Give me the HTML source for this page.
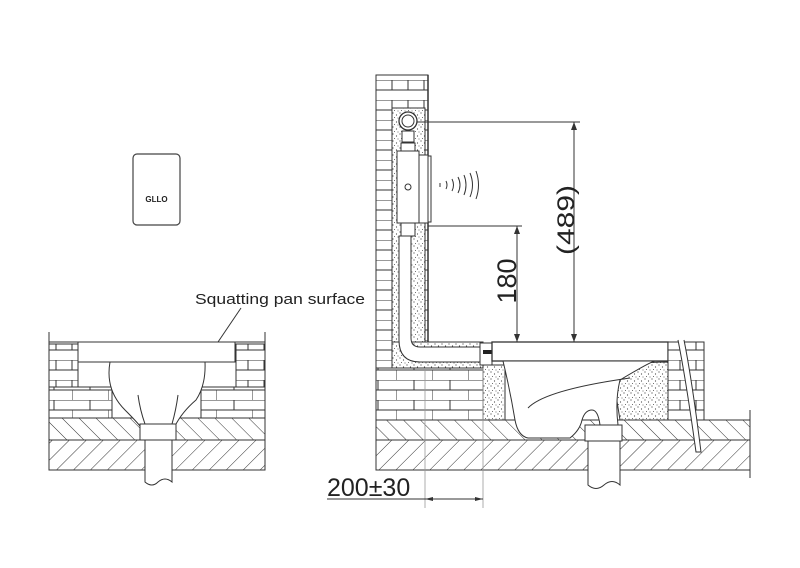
<!DOCTYPE html>
<html><head><style>
html,body{margin:0;padding:0;background:#fff;}
svg{display:block;}
text{font-family:"Liberation Sans",Arial,sans-serif;fill:#222;}
</style></head><body>
<svg width="800" height="568" viewBox="0 0 800 568" xmlns="http://www.w3.org/2000/svg">
<defs>
<pattern id="hatch" width="12" height="12" patternUnits="userSpaceOnUse" patternTransform="rotate(45)">
<line x1="0" y1="0" x2="0" y2="12" stroke="#333" stroke-width="1"/></pattern>
<pattern id="hatch2" width="12" height="12" patternUnits="userSpaceOnUse" patternTransform="rotate(-45)">
<line x1="0" y1="0" x2="0" y2="12" stroke="#333" stroke-width="1"/></pattern>
<pattern id="brick" width="36" height="20" patternUnits="userSpaceOnUse">
<rect width="36" height="20" fill="#fff"/>
<line x1="0" y1="0" x2="36" y2="0" stroke="#333"/>
<line x1="0" y1="10" x2="36" y2="10" stroke="#333"/>
<line x1="18" y1="0" x2="18" y2="10" stroke="#333"/>
<line x1="0" y1="10" x2="0" y2="20" stroke="#333"/>
</pattern>
<pattern id="brickn" width="16" height="20" patternUnits="userSpaceOnUse">
<rect width="16" height="20" fill="#fff"/>
<line x1="0" y1="0" x2="16" y2="0" stroke="#333"/>
<line x1="0" y1="10" x2="16" y2="10" stroke="#333"/>
<line x1="8" y1="0" x2="8" y2="10" stroke="#333"/>
</pattern>
<pattern id="dots" width="7" height="7" patternUnits="userSpaceOnUse">
<rect width="7" height="7" fill="#fff"/>
<circle cx="1" cy="1" r="0.6" fill="#444"/><circle cx="4.5" cy="3" r="0.6" fill="#444"/>
<circle cx="2.5" cy="5.5" r="0.5" fill="#444"/><circle cx="6" cy="6" r="0.5" fill="#444"/>
</pattern>
</defs>

<!-- Plate icon -->
<rect x="133" y="154" width="47" height="71" rx="4" fill="#fff" stroke="#444" stroke-width="1.2"/>
<text x="156.5" y="202" font-size="8" font-weight="bold" text-anchor="middle">GLLO</text>

<!-- LEFT DRAWING -->
<text x="195" y="304" font-size="15" textLength="170" lengthAdjust="spacingAndGlyphs">Squatting pan surface</text>
<line x1="241" y1="308" x2="218" y2="342" stroke="#333"/>
<rect x="49" y="344" width="29" height="43" fill="url(#brickn)" stroke="#333"/>
<rect x="49" y="387" width="63" height="31" fill="url(#brick)" stroke="#333"/>
<rect x="236" y="344" width="29" height="43" fill="url(#brickn)" stroke="#333"/>
<rect x="201" y="387" width="64" height="31" fill="url(#brick)" stroke="#333"/>
<line x1="49" y1="342" x2="265" y2="342" stroke="#333"/>
<line x1="49" y1="332" x2="49" y2="470" stroke="#333"/>
<line x1="265" y1="332" x2="265" y2="470" stroke="#333"/>
<rect x="78" y="342" width="157" height="20" fill="#fff" stroke="#333"/>
<rect x="49" y="418" width="216" height="22" fill="url(#hatch2)" stroke="#333"/>
<rect x="49" y="440" width="216" height="30" fill="url(#hatch)" stroke="#333"/>
<path d="M110 362 Q105 390 125 410 Q135 420 140 426 L175 426 Q182 412 196 400 Q206 385 205 362 Z" fill="#fff" stroke="#333"/>
<path d="M138 395 Q140 410 145 424 M178 395 Q176 410 172 424" fill="none" stroke="#333"/>
<rect x="140" y="424" width="36" height="16" fill="#fff" stroke="#333"/>
<path d="M145 440 L145 482 Q152 488 158 482 Q165 476 172 482 L172 440 Z" fill="#fff" stroke="#333"/>

<!-- RIGHT DRAWING -->
<rect x="376" y="75" width="52" height="345" fill="url(#brickn)" stroke="#333"/>
<rect x="392" y="108" width="33" height="260" fill="url(#dots)" stroke="#333"/>
<rect x="392" y="342" width="91" height="26" fill="url(#dots)" stroke="#333"/>
<rect x="376" y="368" width="107" height="52" fill="url(#brick)" stroke="#333"/>
<line x1="428" y1="75" x2="428" y2="342" stroke="#333" stroke-width="1.5"/>
<!-- pipe -->
<path d="M399 236 L399 340 Q399 362 420 362 L482 362 L482 347 L420 347 Q411 347 411 338 L411 236 Z" fill="#fff" stroke="#333"/>
<rect x="480" y="343" width="12" height="22" fill="#fff" stroke="#333"/>
<rect x="483" y="350" width="9" height="4" fill="#222"/>
<!-- valve -->
<circle cx="408" cy="121" r="9" fill="#fff" stroke="#333" stroke-width="1.3"/>
<circle cx="408" cy="121" r="6" fill="#fff" stroke="#333"/>
<rect x="402" y="131" width="12" height="11" fill="#fff" stroke="#333"/>
<rect x="401" y="143" width="14" height="8" fill="#fff" stroke="#333"/>
<rect x="397" y="151" width="22" height="72" fill="#fff" stroke="#333"/>
<circle cx="408" cy="187" r="3" fill="#fff" stroke="#333"/>
<rect x="401" y="223" width="14" height="13" fill="#fff" stroke="#333"/>
<rect x="419" y="155" width="9" height="68" fill="#fff" stroke="#333"/>
<rect x="428" y="156" width="3" height="66" fill="#fff" stroke="#333"/>
<g fill="none" stroke="#333">
<path d="M440 183 v4"/><path d="M446 181 q2 4 0 8"/><path d="M452 179 q3 6 0 12"/><path d="M458 177 q4 8 0 16"/><path d="M464 175 q4 10 0 20"/><path d="M470 173 q5 12 0 24"/><path d="M476 171 q5 14 0 28"/>
</g>
<!-- dims -->
<line x1="418" y1="122" x2="580" y2="122" stroke="#333"/>
<line x1="574" y1="122" x2="574" y2="342" stroke="#333"/>
<path d="M571 130 L574 122 L577 130 Z M571 334 L574 342 L577 334 Z" fill="#333"/>
<text transform="translate(574,220) rotate(-90)" font-size="24" text-anchor="middle" textLength="70" lengthAdjust="spacingAndGlyphs">(489)</text>
<line x1="428" y1="226" x2="522" y2="226" stroke="#333"/>
<line x1="517" y1="226" x2="517" y2="342" stroke="#333"/>
<path d="M514 234 L517 226 L520 234 Z M514 334 L517 342 L520 334 Z" fill="#333"/>
<text transform="translate(516,281) rotate(-90)" font-size="27" text-anchor="middle">180</text>
<!-- ground -->
<rect x="376" y="420" width="374" height="20" fill="url(#hatch2)" stroke="#333"/>
<rect x="376" y="440" width="374" height="30" fill="url(#hatch)" stroke="#333"/>
<line x1="750" y1="410" x2="750" y2="478" stroke="#333"/>
<!-- stipple fills -->
<rect x="483" y="365" width="22" height="55" fill="url(#dots)" stroke="#333"/>
<path d="M612 370 Q630 362 668 362 L668 420 L620 420 Z" fill="url(#dots)" stroke="#333"/>
<!-- pan -->
<rect x="492" y="342" width="176" height="19" fill="#fff" stroke="#333" stroke-width="1.3"/>
<path d="M503 361 Q510 390 515 420 Q518 436 528 438 L570 438 Q580 430 582 420 Q585 410 592 410 Q598 410 600 425 L618 425 Q615 400 620 380 Q650 362 655 361 Z" fill="#fff" stroke="#333"/>
<path d="M528 408 Q545 390 630 378" fill="none" stroke="#333"/>
<rect x="585" y="425" width="37" height="16" fill="#fff" stroke="#333"/>
<path d="M588 441 L588 485 Q596 492 604 485 Q612 478 620 485 L620 441 Z" fill="#fff" stroke="#333"/>
<rect x="668" y="342" width="36" height="78" fill="url(#brickn)" stroke="#333"/>
<path d="M678 340 Q686 380 696 452 L701 452 Q692 380 684 340" fill="#fff" stroke="#333"/>
<!-- bottom dim -->
<line x1="425" y1="368" x2="425" y2="508" stroke="#999" stroke-width="0.8"/>
<line x1="483" y1="368" x2="483" y2="508" stroke="#999" stroke-width="0.8"/>
<text x="327" y="496" font-size="25">200±30</text>
<line x1="327" y1="499" x2="483" y2="499" stroke="#333"/>
<path d="M425 499 L433 497 L433 501 Z M483 499 L475 497 L475 501 Z" fill="#333"/>
</svg>
</body></html>
